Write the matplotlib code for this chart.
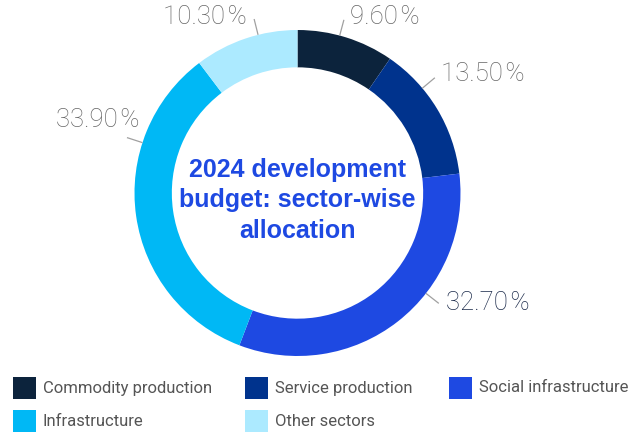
import numpy as np
import matplotlib
matplotlib.use("Agg")
import matplotlib.pyplot as plt
from matplotlib.patches import Rectangle

# Sector shares of the 2024 development budget (%), clockwise from 12 o'clock
sectors = ["Commodity production", "Service production", "Social infrastructure",
           "Infrastructure", "Other sectors"]
shares = [9.60, 13.50, 32.70, 33.90, 10.30]
colors = ["#0C233C", "#00338D", "#1E49E2", "#00B8F5", "#ACEAFF"]
title_text = "2024 development\nbudget: sector-wise\nallocation"

# Label layout: leader-line angle (deg), text offset (px), alignment, colour
label_angles = [75, 40, -38, 162, 104]
label_offsets = [(6, 3), (6, 4), (7, 0), (13, 18), (-7, 2)]
label_ha = ["left", "left", "left", "right", "right"]
label_colors = ["#666666", "#666666", "#1B2A4A", "#666666", "#666666"]

# Legend grid layout (pixels from top-left)
legend_cols_x = [13, 245, 449]
legend_rows_y = [388, 421]
legend_ncol = 3
SWATCH = 22.5
TEXT_GAP = 30

W, H, DPI = 641, 432, 100
fig = plt.figure(figsize=(W / DPI, H / DPI), dpi=DPI)

R_PX = 163.0           # outer radius in pixels
CX, CY = 297.5, 193.0  # donut centre in pixels (from top-left)
BOX = 400.0
ax = fig.add_axes([(CX - BOX / 2) / W, (H - CY - BOX / 2) / H, BOX / W, BOX / H])
lim = BOX / 2 / R_PX

ax.pie(shares, colors=colors, startangle=90, counterclock=False, radius=1.0,
       wedgeprops=dict(width=0.229, linewidth=0), frame=False)
ax.set_xlim(-lim, lim)
ax.set_ylim(-lim, lim)
ax.axis("off")

num_font = ["Roboto", "DejaVu Sans"]
for val, ang, off, ha, col in zip(shares, label_angles, label_offsets, label_ha, label_colors):
    a = np.deg2rad(ang)
    x0, y0 = np.cos(a) * 1.0, np.sin(a) * 1.0
    x1, y1 = np.cos(a) * 1.1, np.sin(a) * 1.1
    ax.plot([x0, x1], [y0, y1], color="#A0A0A0", lw=0.9, solid_capstyle="butt")
    ax.annotate(f"{val:.2f}\u200a%", xy=(x1, y1), xytext=off, textcoords="offset pixels",
                ha=ha, va="center", fontsize=18.5, color=col, family=num_font,
                fontweight="light")

ax.text(0, -0.045, title_text, ha="center", va="center", fontsize=18,
        fontweight="bold", color="#1E49E2", linespacing=1.33,
        family=["Liberation Sans", "DejaVu Sans"])

# Legend drawn on a grid, filled row by row
for i, (name, c) in enumerate(zip(sectors, colors)):
    row, col = divmod(i, legend_ncol)
    x = legend_cols_x[col]
    yc = legend_rows_y[row]
    fig.add_artist(Rectangle((x / W, (H - yc - SWATCH / 2) / H), SWATCH / W, SWATCH / H,
                             transform=fig.transFigure, facecolor=c, edgecolor="none"))
    fig.text((x + TEXT_GAP) / W, (H - yc) / H, name, ha="left", va="center",
             fontsize=12, color="#555555", family=["Roboto", "DejaVu Sans"])

fig.savefig("out.png", dpi=DPI)
